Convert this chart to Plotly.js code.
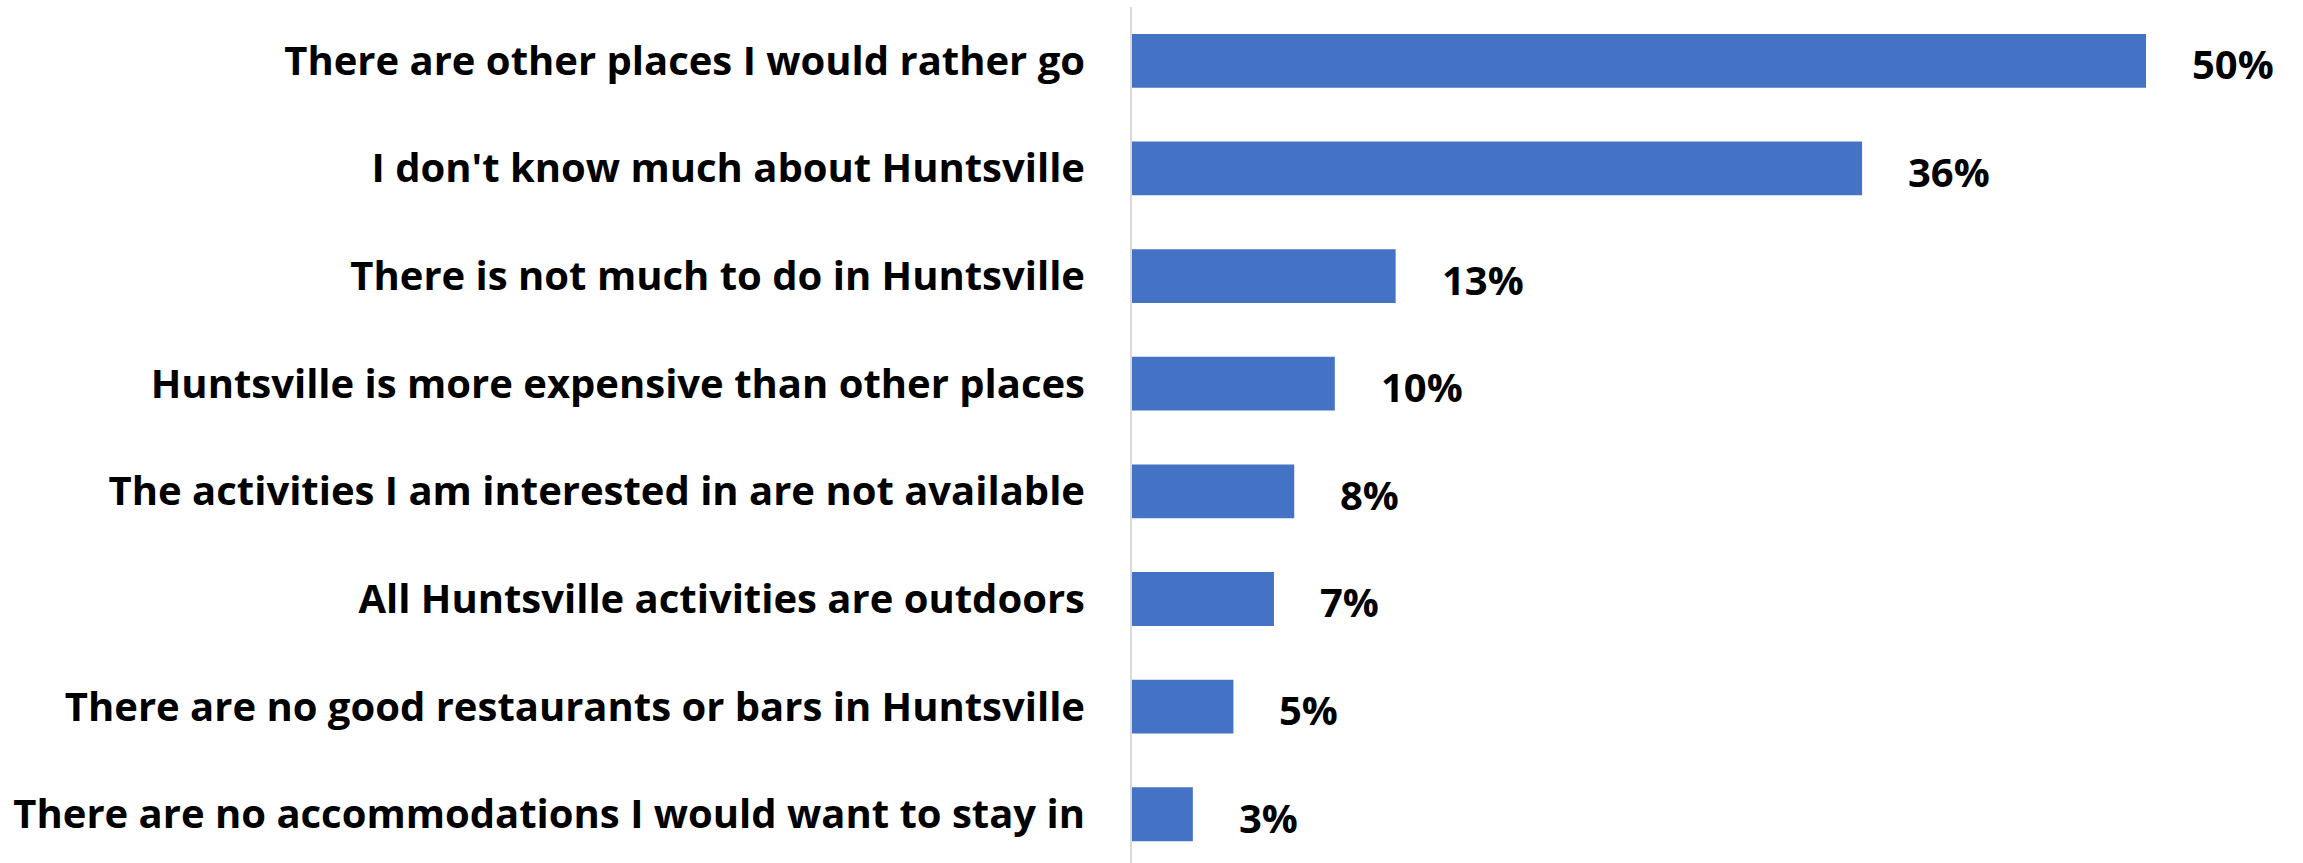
<!DOCTYPE html>
<html>
<head>
<meta charset="utf-8">
<script src="https://cdn.plot.ly/plotly-3.0.1.min.js"></script>
<style>html,body{margin:0;padding:0;background:#fff;}#chart{width:2303px;height:863px;}</style>
</head>
<body>
<div id="chart"></div>
<script>
const categories = [
  "There are other places I would rather go",
  "I don't know much about Huntsville",
  "There is not much to do in Huntsville",
  "Huntsville is more expensive than other places",
  "The activities I am interested in are not available",
  "All Huntsville activities are outdoors",
  "There are no good restaurants or bars in Huntsville",
  "There are no accommodations I would want to stay in"
];
const values = [50, 36, 13, 10, 8, 7, 5, 3];
const valueLabels = ["50%", "36%", "13%", "10%", "8%", "7%", "5%", "3%"];

const FONT = "'Open Sans', 'Noto Sans', sans-serif";

const trace = {
  type: 'bar',
  orientation: 'h',
  y: categories,
  x: values,
  marker: {color: '#4472C4'},
  hoverinfo: 'none'
};

const annotations = categories.map((c, i) => ({
  x: values[i], y: c, xref: 'x', yref: 'y',
  text: '<b>' + valueLabels[i] + '</b>',
  showarrow: false, xanchor: 'left', xshift: 44, yshift: -3,
  font: {family: FONT, size: 40, color: '#000'}
}));

const layout = {
  width: 2303, height: 863,
  margin: {l: 1132, r: 13, t: 7, b: 0},
  paper_bgcolor: '#fff', plot_bgcolor: '#fff',
  bargap: 0.5,
  showlegend: false,
  xaxis: {range: [0, 57.1], showgrid: false, zeroline: false, showticklabels: false, ticks: '', showline: false, fixedrange: true},
  yaxis: {
    type: 'category', range: [7.453, -0.5], autorange: false,
    showgrid: false, zeroline: false, ticks: '',
    showline: true, linecolor: '#d9d9d9', linewidth: 2,
    ticklabelstandoff: 37,
    tickfont: {family: FONT, size: 40, color: '#000', weight: 'bold'}
  },
  annotations: annotations
};

Plotly.newPlot('chart', [trace], layout, {displayModeBar: false, staticPlot: true});
</script>
</body>
</html>
